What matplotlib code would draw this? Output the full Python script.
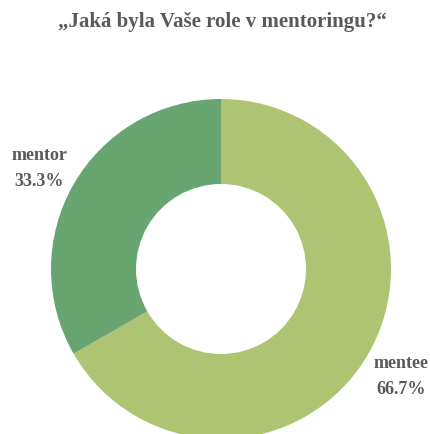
import matplotlib
matplotlib.use("Agg")
import matplotlib.pyplot as plt

categories = ["mentee", "mentor"]
values = [66.7, 33.3]
colors = ["#AEC472", "#68A570"]
title = "\u201eJaká byla Vaše role v mentoringu?\u201c"

plt.rcParams['font.family'] = ['Liberation Serif', 'DejaVu Serif']

fig = plt.figure(figsize=(4.30, 4.34), dpi=100)
ax = fig.add_axes([0, 0, 1, 1])
# y axis is inverted below, so counterclockwise in data = clockwise on screen
ax.pie(values, colors=colors, startangle=-90, counterclock=True,
       radius=170, center=(221, 269), frame=True,
       wedgeprops=dict(width=85, edgecolor='none'))
ax.set_xlim(0, 430)
ax.set_ylim(434, 0)
ax.set_aspect('equal')
ax.axis('off')

tc = "#595959"
ax.text(222, 22, title, ha='center', va='center', fontsize=15, fontweight='bold', color=tc)
ax.text(39, 155, categories[1], ha='center', va='center', fontsize=13, fontweight='bold', color=tc)
ax.text(39, 181, f"{values[1]:.1f}%", ha='center', va='center', fontsize=13, fontweight='bold', color=tc)
ax.text(401, 364, categories[0], ha='center', va='center', fontsize=13, fontweight='bold', color=tc)
ax.text(401, 389, f"{values[0]:.1f}%", ha='center', va='center', fontsize=13, fontweight='bold', color=tc)

fig.savefig("out.png", dpi=100)
